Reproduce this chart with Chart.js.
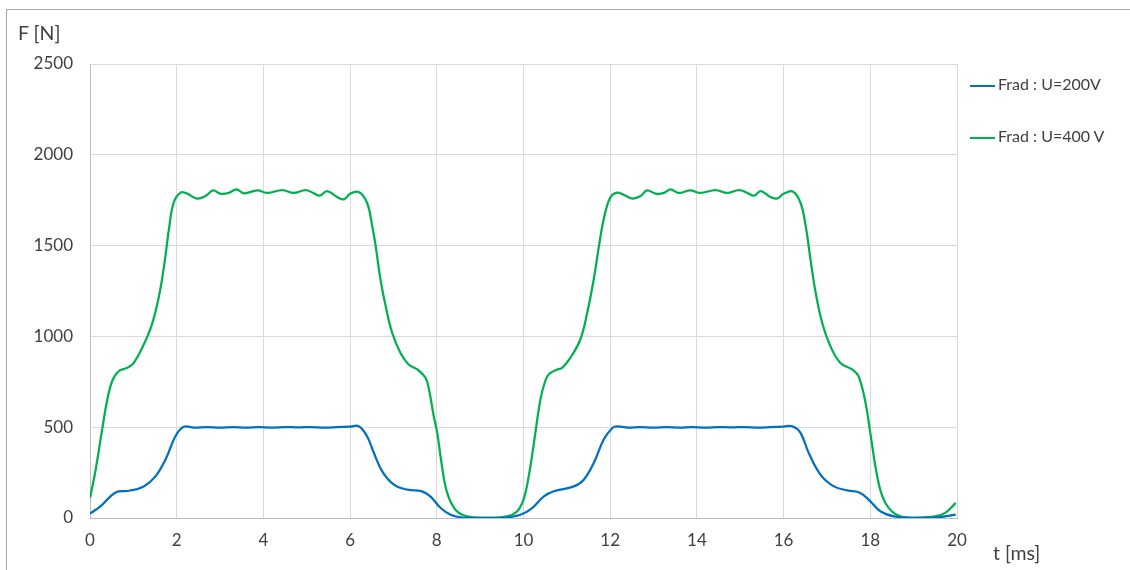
<!DOCTYPE html>
<html>
<head>
    <title>Frad</title>
    <script src="https://cdn.jsdelivr.net/npm/chart.js"></script>
    <style>
        body {
            margin: 0;
            width: 1130px;
            height: 570px;
            overflow: hidden;
            background-color: white;
            font-family: Lato, sans-serif;
            color: #404040;
        }
        .frame {
            position: absolute;
            left: 6px;
            top: 9px;
            width: 1200px;
            height: 700px;
            border-left: 1px solid #a6a6a6;
            border-top: 1px solid #a6a6a6;
        }
        #chart {
            position: absolute;
            left: 0;
            top: 0;
        }
        .label {
            position: absolute;
            font-size: 19.5px;
            white-space: nowrap;
            line-height: 22px;
        }
        .legend-item {
            position: absolute;
            font-size: 16px;
            line-height: 20px;
            white-space: nowrap;
        }
        .legend-item span {
            display: inline-block;
            width: 25px;
            height: 2px;
            margin-right: 3px;
            vertical-align: middle;
        }
    </style>
</head>
<body>
    <div class="frame"></div>
    <canvas id="chart" width="1130" height="570"></canvas>
    <div class="label" style="left:18px; top:22px;">F [N]</div>
    <div class="label" style="left:993px; top:542px;">t [ms]</div>
    <div class="legend-item" style="left:970px; top:74px;"><span style="background:#0070C0"></span>Frad : U=200V</div>
    <div class="legend-item" style="left:970px; top:126px;"><span style="background:#00B050"></span>Frad : U=400 V</div>

    <script>
        // Values
        const yTicks = [0, 500, 1000, 1500, 2000, 2500];
        const xTicks = [0, 2, 4, 6, 8, 10, 12, 14, 16, 18, 20];

        const tGreen = [0, 0.13, 0.28, 0.4, 0.51, 0.66, 0.86, 1.01, 1.24, 1.4, 1.52, 1.63, 1.74, 1.82, 1.93, 2.09, 2.24,
            2.47, 2.66, 2.84, 3.0, 3.2, 3.38, 3.55, 3.86, 4.1, 4.43, 4.7, 4.97, 5.15, 5.3, 5.47, 5.7, 5.86,
            6.0, 6.2, 6.39, 6.51, 6.59, 6.7, 6.82, 6.97, 7.16, 7.35, 7.55, 7.74, 7.82, 7.93, 8.01, 8.12, 8.24, 8.43,
            8.7, 9.1, 9.62, 9.85,
            10.0, 10.12, 10.24, 10.39, 10.5, 10.58, 10.78, 10.89, 11.08, 11.31, 11.47, 11.62, 11.74, 11.85, 12.0,
            12.16, 12.31, 12.51, 12.7, 12.85, 13.05, 13.24, 13.39, 13.58, 13.85, 14.08, 14.43, 14.7, 14.97,
            15.16, 15.32, 15.47, 15.7, 15.85, 16.0, 16.22, 16.39, 16.51, 16.62, 16.74, 16.89, 17.08, 17.31,
            17.58, 17.73, 17.89, 18.0, 18.16, 18.31, 18.54, 18.85, 19.46, 19.73, 19.97];
        const fGreen = [110, 266, 487, 652, 753, 808, 827, 854, 955, 1045, 1145, 1270, 1442, 1589, 1736, 1792, 1786,
            1759, 1773, 1804, 1786, 1790, 1810, 1788, 1804, 1790, 1806, 1790, 1806, 1790, 1775, 1800, 1768, 1755,
            1786, 1795, 1736, 1608, 1497, 1314, 1167, 1020, 910, 845, 818, 772, 707, 560, 469, 285, 138, 46,
            9, 2, 9, 36,
            101, 229, 413, 652, 753, 790, 818, 827, 882, 983, 1130, 1314, 1497, 1645, 1764,
            1792, 1780, 1759, 1773, 1804, 1786, 1790, 1810, 1790, 1804, 1790, 1806, 1790, 1806,
            1790, 1775, 1800, 1768, 1759, 1786, 1797, 1736, 1608, 1424, 1240, 1075, 946, 854,
            818, 780, 634, 469, 229, 101, 28, 2, 7, 28, 83];

        const tBlue = [0, 0.24, 0.59, 0.9, 1.24, 1.51, 1.74, 1.97, 2.16, 2.4, 2.7, 3.0, 3.3, 3.6, 3.9,
            4.2, 4.5, 4.8, 5.1, 5.4, 5.7, 6.0, 6.2, 6.39, 6.55, 6.74, 7.01, 7.32, 7.66, 7.85, 8.09, 8.32,
            8.6, 9.0, 9.5, 9.93, 10.2, 10.47, 10.7, 11.16, 11.39, 11.62, 11.85, 12.05, 12.16, 12.4, 12.7,
            13.0, 13.3, 13.6, 13.9, 14.2, 14.5, 14.8, 15.1, 15.4, 15.7, 16.0, 16.2, 16.39, 16.58, 16.85,
            17.16, 17.47, 17.77, 18.0, 18.24, 18.55, 19.0, 19.5, 19.97];
        const fBlue = [24, 64, 141, 150, 174, 229, 321, 450, 502, 498, 500, 497, 501, 498, 500,
            497, 501, 499, 501, 498, 500, 503, 505, 450, 358, 257, 184, 156, 147, 119, 55, 18,
            2, 0, 0, 18, 55, 119, 147, 174, 211, 303, 432, 496, 505, 498, 500,
            497, 501, 498, 500, 497, 501, 499, 501, 498, 500, 503, 505, 469, 358, 239,
            174, 152, 138, 92, 36, 9, 1, 2, 18];

        const toPoints = (ts, vs) => ts.map((t, i) => ({ x: t, y: vs[i] }));

        const tickFont = { family: 'Lato', size: 17 };

        new Chart(document.getElementById('chart'), {
            type: 'line',
            data: {
                datasets: [{
                    label: 'Frad : U=200V',
                    data: toPoints(tBlue, fBlue),
                    borderColor: '#0070C0',
                    borderWidth: 2.25,
                    pointRadius: 0,
                    tension: 0.4
                }, {
                    label: 'Frad : U=400 V',
                    data: toPoints(tGreen, fGreen),
                    borderColor: '#00B050',
                    borderWidth: 2.25,
                    pointRadius: 0,
                    tension: 0.4
                }]
            },
            options: {
                responsive: false,
                animation: false,
                layout: { padding: { left: 0, top: 64, right: 173, bottom: 0 } },
                plugins: { legend: { display: false }, tooltip: { enabled: false } },
                scales: {
                    x: {
                        type: 'linear',
                        min: 0,
                        max: 20,
                        afterFit: (scale) => { scale.height = 52; },
                        afterBuildTicks: (scale) => { scale.ticks = xTicks.map(v => ({ value: v })); },
                        ticks: { color: '#404040', font: tickFont, padding: 12, maxRotation: 0,
                            callback: (v) => String(v) },
                        grid: { color: '#d9d9d9', drawTicks: false },
                        border: { color: '#bfbfbf' }
                    },
                    y: {
                        min: 0,
                        max: 2500,
                        afterFit: (scale) => { scale.width = 90; },
                        afterBuildTicks: (scale) => { scale.ticks = yTicks.map(v => ({ value: v })); },
                        ticks: { color: '#404040', font: tickFont, padding: 17,
                            callback: (v) => String(v) },
                        grid: { color: '#d9d9d9', drawTicks: false },
                        border: { color: '#bfbfbf' }
                    }
                }
            }
        });
    </script>
</body>
</html>
